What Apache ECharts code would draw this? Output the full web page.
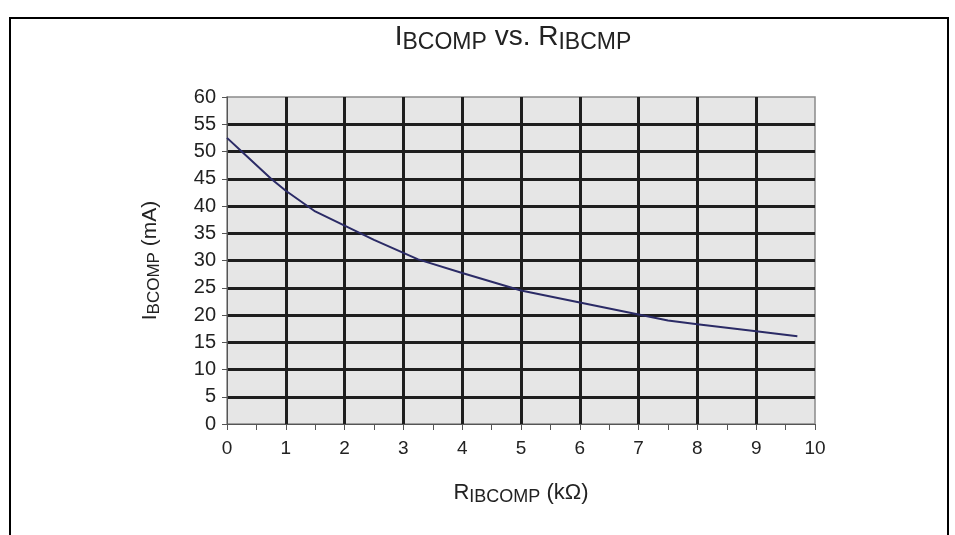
<!DOCTYPE html>
<html>
<head>
<meta charset="utf-8">
<script src="https://cdn.jsdelivr.net/npm/echarts@6/dist/echarts.min.js"></script>
<style>
  html, body { margin: 0; padding: 0; background: #fff; }
  #chart { width: 955px; height: 535px; }
</style>
</head>
<body>
<div id="chart"></div>
<script>
// Compensation current versus programming resistor
const resistanceKOhm = [0, 0.25, 0.75, 1, 1.5, 2, 2.5, 3.25, 4, 5, 6, 7, 7.5, 8, 9, 9.7];
const currentMA      = [52.5, 50, 45, 42.8, 39, 36.4, 33.8, 30.2, 27.7, 24.5, 22.3, 20.1, 19, 18.3, 17, 16.1];
const xTicks = [0, 10, 1];   // min, max, step
const yTicks = [0, 60, 5];

const points = resistanceKOhm.map((r, i) => [r, currentMA[i]]);

const FONT = 'Liberation Sans, Arial, sans-serif';
const TEXT = '#222';
const GRID_DARK = '#1e1e1e';

const chart = echarts.init(document.getElementById('chart'), null, { renderer: 'canvas' });

chart.setOption({
  animation: false,
  backgroundColor: '#fff',
  title: {
    text: 'I{sub|BCOMP} vs. R{sub|IBCMP}',
    left: 508,
    top: 16,
    textAlign: 'center',
    textStyle: {
      fontFamily: FONT, fontSize: 28, fontWeight: 'normal', color: TEXT,
      rich: {
        sub: { fontFamily: FONT, fontSize: 23, color: TEXT, padding: [10, 0, 0, 0] }
      }
    }
  },
  graphic: [{
    type: 'rect',
    shape: { x: 10, y: 18, width: 938, height: 600 },
    style: { fill: 'none', stroke: '#000', lineWidth: 2 },
    silent: true
  }],
  grid: {
    left: 227, right: 140, top: 97, bottom: 111,
    show: true,
    backgroundColor: '#e6e6e6',
    borderColor: '#8a8a8a',
    borderWidth: 1.5
  },
  xAxis: {
    type: 'value',
    min: xTicks[0], max: xTicks[1], interval: xTicks[2],
    name: 'R{sub|IBCOMP} (kΩ)',
    nameLocation: 'middle',
    nameGap: 56,
    nameTextStyle: {
      fontFamily: FONT, fontSize: 22, color: TEXT,
      rich: { sub: { fontFamily: FONT, fontSize: 18, color: TEXT, padding: [8, 0, 0, 0] } }
    },
    axisLine: { show: true, lineStyle: { color: '#555', width: 1 } },
    axisTick: { show: true, length: 6, lineStyle: { color: '#555', width: 1 } },
    minorTick: { show: true, splitNumber: 2, length: 6, lineStyle: { color: '#555', width: 1 } },
    axisLabel: { fontFamily: FONT, fontSize: 19, color: TEXT, margin: 15 },
    splitLine: {
      show: true, showMinLine: false, showMaxLine: false,
      lineStyle: { color: GRID_DARK, width: 3 }
    }
  },
  yAxis: {
    type: 'value',
    min: yTicks[0], max: yTicks[1], interval: yTicks[2],
    name: 'I{sub|BCOMP} (mA)',
    nameLocation: 'middle',
    nameRotate: 90,
    nameGap: 64,
    nameTextStyle: {
      fontFamily: FONT, fontSize: 21, color: TEXT,
      rich: { sub: { fontFamily: FONT, fontSize: 17, color: TEXT, padding: [8, 0, 0, 0] } }
    },
    axisLine: { show: true, lineStyle: { color: '#555', width: 1 } },
    axisTick: { show: true, length: 5, lineStyle: { color: '#555', width: 1 } },
    axisLabel: { fontFamily: FONT, fontSize: 20, color: TEXT, margin: 11 },
    splitLine: {
      show: true, showMinLine: false, showMaxLine: false,
      lineStyle: { color: GRID_DARK, width: 3 }
    }
  },
  series: [{
    type: 'line',
    data: points,
    showSymbol: false,
    smooth: false,
    lineStyle: { color: '#2b2b66', width: 2 }
  }]
});
</script>
</body>
</html>
